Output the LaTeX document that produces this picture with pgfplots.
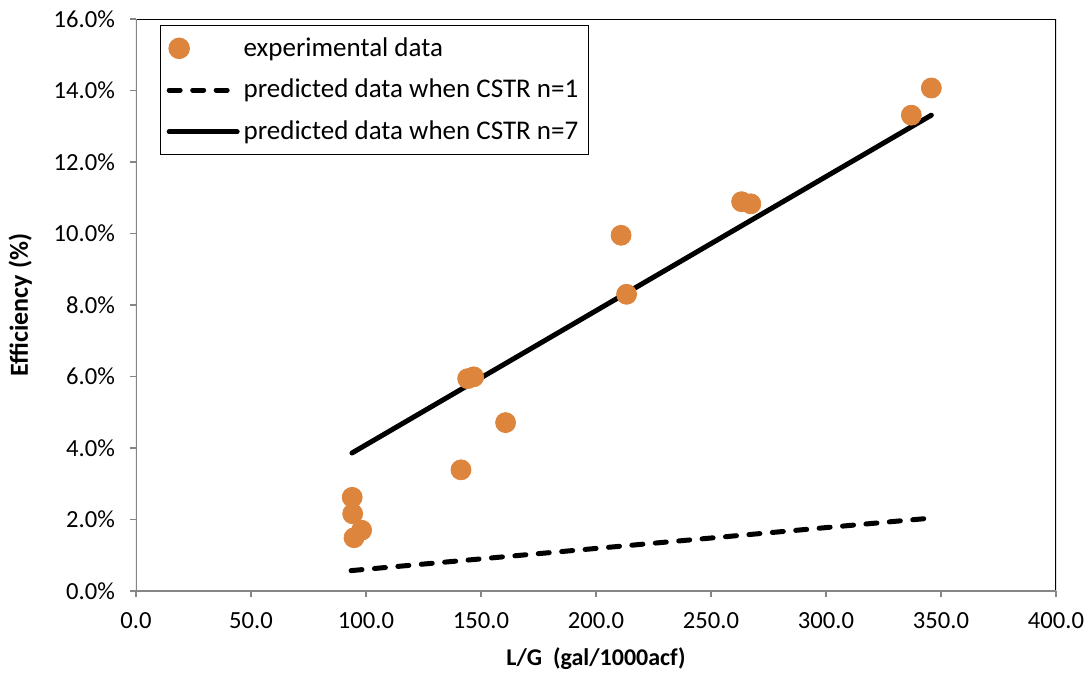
\documentclass[border=0pt]{standalone}
\usepackage{pgfplots}
\pgfplotsset{compat=1.18}
\usepackage{fontspec}
\setmainfont{Carlito}
\definecolor{expo}{RGB}{221,132,61}
\definecolor{axgray}{RGB}{134,134,134}
\pgfplotsset{
  mylineleg/.style={legend image code/.code={\draw[##1] (0pt,0pt) -- (34pt,0pt);}},
  mymarkleg/.style={legend image code/.code={\draw[##1] plot coordinates {(5pt,0pt)};}},
}
\begin{document}
\begin{tikzpicture}
\path[use as bounding box] (-68pt,-45pt) rectangle (477.5pt,295.5pt);
\begin{axis}[
  scale only axis, width=460pt, height=286pt,
  xmin=0, xmax=400, ymin=0, ymax=16,
  xtick={0,50,...,400}, ytick={0,2,...,16},
  minor tick num=0,
  axis line style={draw=none},
  tick align=outside, xtick pos=bottom, ytick pos=left,
  major tick length=3pt,
  major tick style={axgray, line width=0.75pt},
  /pgf/number format/assume math mode=true,
  xticklabel={\pgfmathprintnumber[fixed,fixed zerofill,precision=1]{\tick}},
  yticklabel={\pgfmathprintnumber[fixed,fixed zerofill,precision=1]{\tick}\%},
  tick label style={font=\fontsize{12.3}{14}\selectfont},
  xticklabel style={yshift=-4pt},
  yticklabel style={xshift=-4pt},
  xlabel={\textbf{L/G\ \ (gal/1000acf)}},
  ylabel={\textbf{Efficiency (\%)}},
  xlabel style={font=\fontsize{12}{14}\selectfont, yshift=-3pt},
  ylabel style={font=\fontsize{13}{15}\selectfont, yshift=4pt},
  legend style={at={(0.026,0.99)}, anchor=north west, draw=black, line width=0.75pt,
    font=\fontsize{13.5}{16}\selectfont, row sep=6pt, inner xsep=3pt, inner ysep=4pt},
  legend cell align=left,
]
\addplot[only marks, mark=*, mark size=5pt, color=expo, mymarkleg]
coordinates {
(94.0,2.62) (94.2,2.16) (98.1,1.70) (94.8,1.49)
(141.3,3.39) (160.7,4.71) (144.2,5.94) (146.8,5.99)
(210.9,9.95) (213.3,8.30) (263.3,10.89) (267.3,10.83)
(337.1,13.31) (345.8,14.07)
};
\addlegendentry{experimental data}
\addplot[black, line width=2.5pt, line cap=round, dash pattern=on 5.5pt off 6.25pt, mylineleg]
coordinates {(93.5,0.57) (345.7,2.04)};
\addlegendentry{predicted data when CSTR n=1}
\addplot[black, line width=2.5pt, line cap=round, mylineleg]
coordinates {(93.9,3.86) (345.8,13.31)};
\addlegendentry{predicted data when CSTR n=7}
\draw[black, line width=1pt] (rel axis cs:0,1) -- (rel axis cs:1,1) -- (rel axis cs:1,0);
\draw[axgray, line width=1pt] (rel axis cs:0,1) -- (rel axis cs:0,0) -- (rel axis cs:1,0);
\end{axis}
\end{tikzpicture}
\end{document}
